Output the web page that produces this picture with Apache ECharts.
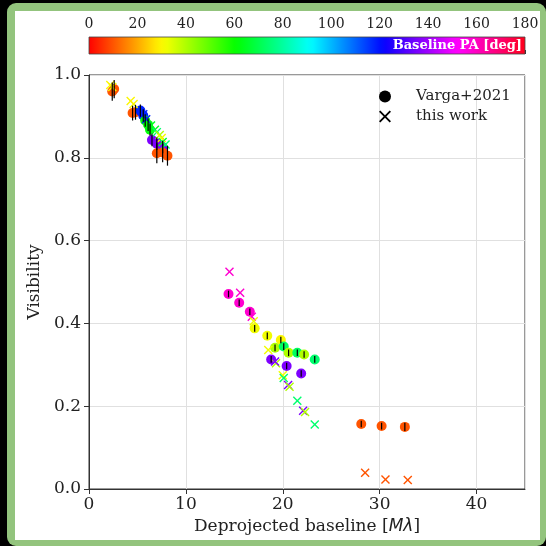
<!DOCTYPE html>
<html>
<head>
<meta charset="utf-8">
<script src="https://cdn.jsdelivr.net/npm/echarts@6/dist/echarts.min.js"></script>
<style>
html,body{margin:0;padding:0;background:#000;width:546px;height:546px;overflow:hidden;}
#frame{position:absolute;left:7px;top:3px;width:539px;height:543px;background:#93c47d;border-radius:9px;}
#inner{position:absolute;left:8px;top:8px;width:525px;height:529px;background:#fff;}
#chart{position:absolute;left:0;top:0;width:546px;height:546px;}
</style>
</head>
<body>
<div id="frame"><div id="inner"></div></div>
<div id="chart"></div>
<script>
// ---- Data: Varga+2021 (circles with error bars) ----
const vargaBaseline = [2.4, 2.6, 4.5, 4.8, 5.3, 5.6, 5.8, 6.1, 6.3, 6.5, 7.0, 7.6, 7.0, 7.6, 8.1,
  14.4, 15.5, 16.6, 17.1, 18.4, 19.8, 19.2, 20.1, 20.6, 21.5, 22.2, 23.3, 18.8, 20.4, 21.9,
  28.1, 30.2, 32.6];
const vargaVis = [0.960, 0.966, 0.908, 0.910, 0.914, 0.902, 0.890, 0.880, 0.868, 0.843, 0.834, 0.826, 0.811, 0.813, 0.805,
  0.471, 0.450, 0.428, 0.388, 0.370, 0.360, 0.341, 0.344, 0.329, 0.329, 0.325, 0.313, 0.313, 0.297, 0.279,
  0.157, 0.152, 0.150];
const vargaErr = [0.022, 0.022, 0.018, 0.018, 0.015, 0.015, 0.015, 0.015, 0.015, 0.015, 0.015, 0.015, 0.024, 0.024, 0.024,
  0.008, 0.008, 0.008, 0.008, 0.008, 0.008, 0.008, 0.008, 0.008, 0.008, 0.008, 0.008, 0.008, 0.008, 0.008,
  0.008, 0.008, 0.010];
const vargaPA = [10, 10, 10, 10, 118, 118, 62, 62, 62, 136, 136, 136, 10, 10, 10,
  158, 158, 158, 32, 32, 30, 40, 72, 40, 72, 40, 74, 136, 136, 136,
  10, 10, 10];

// ---- Data: this work (crosses) ----
const workBaseline = [2.2, 2.4, 4.3, 4.6, 5.6, 5.9, 6.4, 6.8, 7.0, 7.3, 7.5, 7.6, 7.9,
  14.5, 15.6, 16.8, 17.0, 18.5, 19.3, 19.2, 20.0, 20.1, 20.55, 20.7, 21.5, 22.1, 22.3, 23.3,
  28.5, 30.6, 32.9];
const workVis = [0.976, 0.971, 0.937, 0.930, 0.905, 0.893, 0.878, 0.868, 0.862, 0.855, 0.848, 0.838, 0.832,
  0.525, 0.474, 0.416, 0.405, 0.336, 0.304, 0.308, 0.275, 0.268, 0.251, 0.247, 0.213, 0.189, 0.186, 0.156,
  0.039, 0.023, 0.022];
const workPA = [30, 30, 30, 30, 118, 118, 65, 65, 74, 40, 30, 65, 74,
  158, 158, 158, 32, 32, 40, 136, 32, 74, 136, 40, 74, 136, 40, 74,
  10, 10, 10];

// ---- Tick labels ----
const xTicks = [0, 10, 20, 30, 40];
const yTicks = [0.0, 0.2, 0.4, 0.6, 0.8, 1.0];
const paTicks = [0, 20, 40, 60, 80, 100, 120, 140, 160, 180];

// matplotlib 'hsv' colormap
const cR = [[0,1],[0.15873,1],[0.174603,0.96875],[0.333333,0.03125],[0.349206,0],[0.666667,0],[0.68254,0.0625],[0.84127,1],[1,1]];
const cG = [[0,0],[0.15873,0.9375],[0.174603,1],[0.507937,1],[0.666667,0.0625],[0.68254,0],[1,0]];
const cB = [[0,0],[0.333333,0],[0.349206,0.0625],[0.507937,1],[0.84127,1],[0.857143,0.9375],[1,0.09375]];
function seg(tab, t){
  for (let i=1;i<tab.length;i++){
    if (t<=tab[i][0]){const a=tab[i-1],b=tab[i];return a[1]+(b[1]-a[1])*(t-a[0])/(b[0]-a[0]);}
  }
  return tab[tab.length-1][1];
}
function cmap(t){
  const h=v=>Math.round(v*255).toString(16).padStart(2,'0');
  return '#'+h(seg(cR,t))+h(seg(cG,t))+h(seg(cB,t));
}
const nStops = 73;
const cmapColors = [];
for (let i=0;i<nStops;i++) cmapColors.push(cmap(i/(nStops-1)));
const gradStops = cmapColors.map((c,i)=>({offset:i/(nStops-1), color:c}));

const xPath = 'path://M0,1.1L1.1,0L5,3.9L8.9,0L10,1.1L6.1,5L10,8.9L8.9,10L5,6.1L1.1,10L0,8.9L3.9,5Z';

const vargaData = vargaBaseline.map((x,i)=>[x, vargaVis[i], vargaPA[i]]);
const workData = workBaseline.map((x,i)=>[x, workVis[i], workPA[i]]);
const errData = vargaBaseline.map((x,i)=>[x, vargaVis[i], vargaErr[i]]);

const serif = 'DejaVu Serif';
const chart = echarts.init(document.getElementById('chart'), null, {renderer:'canvas'});
chart.setOption({
  animation: false,
  backgroundColor: 'transparent',
  grid: [
    {left: 89, right: 21, top: 75, bottom: 57, show: true, borderColor: '#333', borderWidth: 1},
    {left: 89, right: 21, top: 37, height: 17, show: false}
  ],
  xAxis: [
    {type:'value', gridIndex:0, min:0, max:45, interval:10,
     name: 'Deprojected baseline [{i|M\u03bb}]', nameLocation:'middle', nameGap: 28,
     nameTextStyle:{fontFamily:serif, fontSize:17, color:'#222',
       rich:{i:{fontFamily:'DejaVu Sans', fontStyle:'italic', fontSize:17, color:'#222'}}},
     axisLine:{show:true, lineStyle:{color:'#333', width:1}},
     axisTick:{show:true, inside:false, length:5, lineStyle:{color:'#333'}},
     axisLabel:{fontFamily:serif, fontSize:17, color:'#222', margin:7, showMaxLabel:false,
       formatter: v => xTicks.includes(v) ? String(v) : ''},
     splitLine:{show:true, lineStyle:{color:'#e0e0e0', width:1}}},
    {type:'value', gridIndex:1, min:0, max:180, interval:20, position:'top',
     axisLine:{show:false},
     axisTick:{show:true, inside:false, length:4, lineStyle:{color:'#333'}},
     axisLabel:{fontFamily:serif, fontSize:14, color:'#222', margin:6,
       formatter: v => paTicks.includes(v) ? String(v) : ''},
     splitLine:{show:false}}
  ],
  yAxis: [
    {type:'value', gridIndex:0, min:0, max:1, interval:0.2,
     name:'Visibility', nameLocation:'middle', nameGap: 43,
     nameTextStyle:{fontFamily:serif, fontSize:17, color:'#222'},
     axisLine:{show:true, lineStyle:{color:'#333', width:1}},
     axisTick:{show:true, inside:false, length:5, lineStyle:{color:'#333'}},
     axisLabel:{fontFamily:serif, fontSize:17, color:'#222', margin:8,
       formatter: v => { const m = yTicks.find(t=>Math.abs(t-v)<1e-9); return m===undefined ? '' : m.toFixed(1); }},
     splitLine:{show:true, lineStyle:{color:'#e0e0e0', width:1}}},
    {type:'value', gridIndex:1, min:0, max:1, show:false}
  ],
  visualMap: {
    type:'continuous', show:false, min:0, max:180, dimension:2, seriesIndex:[0,1],
    inRange:{color: cmapColors}
  },
  legend: {
    orient:'vertical', left: 379, top: 89, padding: 0, itemGap: 5,
    itemWidth: 12, itemHeight: 12,
    textStyle:{fontFamily:serif, fontSize:15, color:'#222', padding:[0,0,0,20]},
    data:[
      {name:'Varga+2021', icon:'circle', itemStyle:{color:'#000', borderWidth:0}},
      {name:'this work', icon:xPath, itemStyle:{color:'#000', borderWidth:0}}
    ]
  },
  series: [
    {name:'Varga+2021', type:'scatter', xAxisIndex:0, yAxisIndex:0, data: vargaData,
     symbol:'circle', symbolSize:10, z:2, itemStyle:{opacity:1}},
    {name:'this work', type:'scatter', xAxisIndex:0, yAxisIndex:0, data: workData,
     symbol:xPath, symbolSize:9, z:3, itemStyle:{opacity:1}},
    {name:'err', type:'custom', xAxisIndex:0, yAxisIndex:0, data: errData, z:4,
     encode:{x:0, y:1},
     renderItem:(params, api)=>{
       const x=api.value(0), y=api.value(1), e=api.value(2);
       const p1=api.coord([x,y-e]), p2=api.coord([x,y+e]);
       return {type:'line', shape:{x1:p1[0], y1:p1[1], x2:p2[0], y2:p2[1]},
         style:{stroke:'#000', lineWidth:1.2}};
     }},
    {name:'colorbar', type:'custom', xAxisIndex:1, yAxisIndex:1, data:[[0,0,180,1]],
     encode:{x:[0,2], y:[1,3]}, silent:true,
     renderItem:(params, api)=>{
       const a=api.coord([api.value(0), api.value(3)]);
       const b=api.coord([api.value(2), api.value(1)]);
       return {type:'group', children:[
         {type:'rect', shape:{x:a[0], y:a[1], width:b[0]-a[0], height:b[1]-a[1]},
          style:{fill:new echarts.graphic.LinearGradient(0,0,1,0,gradStops), stroke:'#444', lineWidth:0.8}},
         {type:'text', style:{text:'Baseline PA [deg]', x:b[0]-3, y:(a[1]+b[1])/2+0.5,
           align:'right', verticalAlign:'middle', fill:'#fff',
           font:'bold 13px "DejaVu Serif"'}}
       ]};
     }}
  ]
});
</script>
</body>
</html>
